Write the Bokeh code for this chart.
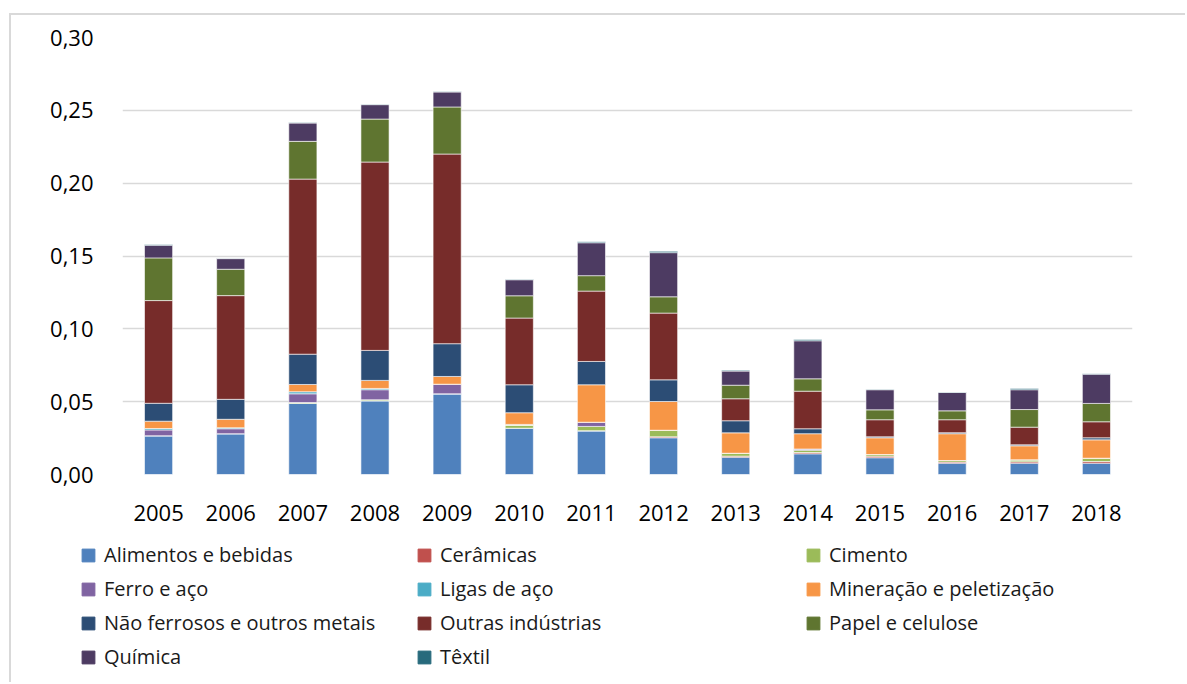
from bokeh.plotting import figure
from bokeh.models import Legend, LegendItem, CustomJSTickFormatter, FactorRange, ColumnDataSource
from bokeh.embed import file_html
from bokeh.resources import INLINE

years = ["2005", "2006", "2007", "2008", "2009", "2010", "2011", "2012",
         "2013", "2014", "2015", "2016", "2017", "2018"]

alimentos = [0.0266, 0.0280, 0.0488, 0.0506, 0.0554, 0.0318, 0.0298, 0.0252, 0.0119, 0.0142, 0.0115, 0.0078, 0.0078, 0.0078]
ceramicas = [0.0, 0.0, 0.0, 0.0, 0.0, 0.0, 0.0003, 0.0007, 0.0007, 0.0009, 0.0011, 0.0007, 0.0009, 0.0011]
cimento = [0.0, 0.0, 0.0006, 0.0007, 0.0, 0.0021, 0.0029, 0.0045, 0.0020, 0.0016, 0.0011, 0.0011, 0.0014, 0.0023]
ferro = [0.0040, 0.0034, 0.0060, 0.0069, 0.0066, 0.0, 0.0029, 0.0, 0.0, 0.0008, 0.0, 0.0, 0.0, 0.0]
ligas = [0.0010, 0.0007, 0.0014, 0.0009, 0.0, 0.0005, 0.0, 0.0, 0.0, 0.0, 0.0, 0.0, 0.0, 0.0]
mineracao = [0.0050, 0.0058, 0.0050, 0.0055, 0.0053, 0.0080, 0.0257, 0.0197, 0.0140, 0.0105, 0.0115, 0.0184, 0.0096, 0.0126]
nao_ferrosos = [0.0123, 0.0137, 0.0208, 0.0206, 0.0225, 0.0192, 0.0160, 0.0149, 0.0083, 0.0034, 0.0007, 0.0007, 0.0007, 0.0014]
outras = [0.0705, 0.0712, 0.1202, 0.1293, 0.1302, 0.0458, 0.0483, 0.0458, 0.0151, 0.0258, 0.0117, 0.0089, 0.0121, 0.0110]
papel = [0.0293, 0.0181, 0.0259, 0.0295, 0.0323, 0.0153, 0.0106, 0.0112, 0.0093, 0.0085, 0.0068, 0.0061, 0.0121, 0.0126]
quimica = [0.0087, 0.0073, 0.0126, 0.0099, 0.0103, 0.0110, 0.0226, 0.0303, 0.0097, 0.0261, 0.0138, 0.0126, 0.0136, 0.0201]
textil = [0.0005, 0.0003, 0.0003, 0.0003, 0.0003, 0.0003, 0.0007, 0.0009, 0.0006, 0.0009, 0.0003, 0.0003, 0.0009, 0.0003]

series_names = ["Alimentos e bebidas", "Cerâmicas", "Cimento", "Ferro e aço", "Ligas de aço",
                "Mineração e peletização", "Não ferrosos e outros metais", "Outras indústrias",
                "Papel e celulose", "Química", "Têxtil"]
series_values = [alimentos, ceramicas, cimento, ferro, ligas, mineracao, nao_ferrosos,
                 outras, papel, quimica, textil]
colors = ["#4F81BD", "#C0504D", "#9BBB59", "#8064A2", "#4BACC6", "#F79646",
          "#2C4D75", "#772C2A", "#5F7530", "#4D3B62", "#276A7C"]

keys = ["s%d" % i for i in range(len(series_names))]
data = {"year": years}
for k, v in zip(keys, series_values):
    data[k] = v
source = ColumnDataSource(data)

W = 1176
H1 = 525
H2 = 144
border = "2px solid #d9d9d9"

p = figure(x_range=FactorRange(*years, range_padding=0), y_range=(0, 0.30),
           width=W, height=H1, output_backend="svg", toolbar_location=None,
           min_border_left=111, min_border_right=55, min_border_top=22, min_border_bottom=66)
p.styles = {"margin-top": "13px", "margin-left": "9px",
            "border-top": border, "border-left": border}

p.vbar_stack(keys, x="year", width=0.39, source=source, color=colors,
             line_color="white", line_width=0.6)

p.outline_line_color = None
p.xgrid.grid_line_color = None
p.ygrid.grid_line_color = "#d9d9d9"
p.ygrid.grid_line_width = 1.5
p.yaxis.ticker = [0, 0.05, 0.10, 0.15, 0.20, 0.25, 0.30]
p.yaxis.formatter = CustomJSTickFormatter(code="return tick.toFixed(2).replace('.', ',');")
for ax in (p.xaxis[0], p.yaxis[0]):
    ax.axis_line_color = None
    ax.major_tick_line_color = None
    ax.minor_tick_line_color = None
    ax.major_tick_out = 0
    ax.major_tick_in = 0
    ax.minor_tick_out = 0
    ax.major_label_text_font = "Open Sans"
    ax.major_label_text_font_size = "22px"
    ax.major_label_text_color = "#000000"
p.yaxis.major_label_standoff = 29
p.xaxis.major_label_standoff = 30

# legend panel (separate root, so its frame spans the full width)
p2 = figure(width=W, height=H2, output_backend="svg", toolbar_location=None,
            x_axis_type=None, y_axis_type=None, x_range=(0, 1), y_range=(0, 1),
            min_border=0, min_border_left=0, min_border_right=0,
            min_border_top=0, min_border_bottom=0)
p2.styles = {"margin-left": "9px", "border-left": border}
p2.outline_line_color = None
p2.grid.visible = False
swatches = [p2.vbar(x=[-10], bottom=[-10], top=[-9], width=0.1, color=c) for c in colors]

columns = [([0, 3, 6, 9], 69, 12), ([1, 4, 7, 10], 405, 12), ([2, 5, 8], 794, 46)]
for idx, lx, ly in columns:
    items = [LegendItem(label=series_names[i], renderers=[swatches[i]]) for i in idx]
    lg = Legend(items=items, orientation="vertical", location=(lx, ly),
                glyph_width=16, glyph_height=16, label_standoff=8,
                label_height=27, spacing=7, padding=0, margin=0,
                label_text_font="Open Sans", label_text_font_size="20px",
                label_text_color="#1a1a1a",
                border_line_color=None, background_fill_alpha=0)
    p2.add_layout(lg, "center")

open("out.html", "w").write(file_html([p, p2], INLINE))
